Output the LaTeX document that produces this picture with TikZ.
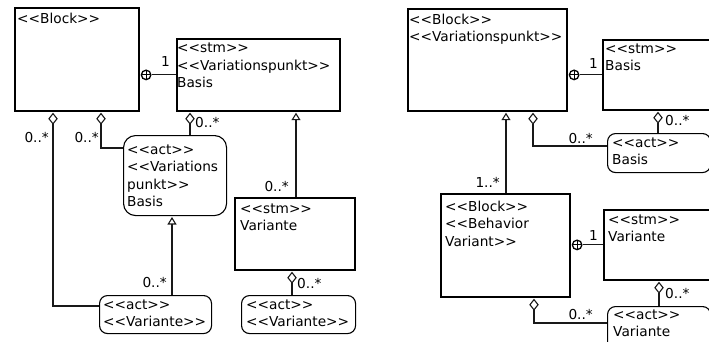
\documentclass[tikz,border=0pt]{standalone}
\usepackage{fontspec}
\newfontfamily\dvs{DejaVu Sans}
\usetikzlibrary{arrows.meta}
\newcommand\bxt[1]{\begin{tabular}[t]{@{}l@{}}#1\end{tabular}}
\begin{document}
\begin{tikzpicture}[x=1pt,y=-1pt,
  font=\dvs\fontsize{13.7}{17.5}\selectfont,
  blockbox/.style={draw=black, line width=1.8pt, rectangle, anchor=north west, inner sep=0pt},
  actbox/.style={draw=black, line width=1.1pt, rounded corners=8pt, rectangle, anchor=north west, inner sep=0pt},
  txt/.style={anchor=base west, inner sep=0pt},
  lblE/.style={anchor=base east, inner sep=0pt},
  lblW/.style={anchor=base west, inner sep=0pt},
  conn/.style={line width=1.1pt, draw=black!90},
  agg/.style={conn, shorten <=0.9pt, {Diamond[open, length=12pt, width=9.5pt]}-},
  gen/.style={conn, shorten <=0.9pt, {Triangle[open, length=7.5pt, width=9pt]}-},
  cplus/.style={circle, draw=black, line width=1.3pt, minimum size=9.5pt, inner sep=0pt,
    path picture={\draw[line width=1.1pt] (path picture bounding box.north) -- (path picture bounding box.south)
      (path picture bounding box.west) -- (path picture bounding box.east);}}
]
\useasboundingbox (0,0) rectangle (709,341);
\clip (0,0) rectangle (709,341);

% ---------- left diagram ----------
\node[blockbox, minimum width=124pt, minimum height=103pt] (blk) at (14,7) {};
\node[blockbox, minimum width=163pt, minimum height=72pt] (svp) at (176,38) {};
\node[actbox, rounded corners=12pt, minimum width=103pt, minimum height=80pt] (avp) at (123,135) {};
\node[blockbox, minimum width=120pt, minimum height=72pt] (sv) at (234,197) {};
\node[actbox, minimum width=112pt, minimum height=38pt] (av1) at (99,295) {};
\node[actbox, minimum width=114pt, minimum height=38pt] (av2) at (241,295) {};

\node[txt] (tblk) at (17,23) {\bxt{<<Block>>}};
\node[txt] (tsvp) at (177,52.5) {\bxt{<<stm>>\\<<Variationspunkt>>\\Basis}};
\node[txt] (tavp) at (127,154) {\bxt{<<act>>\\<<Variations\\punkt>>\\Basis}};
\node[txt] (tsv) at (240,213) {\bxt{<<stm>>\\Variante}};
\node[txt] (tav1) at (103,309) {\bxt{<<act>>\\<<Variante>>}};
\node[txt] (tav2) at (246,309) {\bxt{<<act>>\\<<Variante>>}};

\node[cplus, anchor=west, xshift=0.9pt] (cp1) at (blk.east |- svp.west) {};
\draw[conn] (cp1) -- (svp.west);
\draw[agg] (blk.south -| 53,0) |- (av1.west |- 0,306);
\draw[agg] (blk.south -| 101,0) |- (avp.west |- 0,148);
\draw[agg] (svp.south -| 190,0) -- (avp.north -| 190,0);
\draw[gen] (avp.south -| 172,0) -- (av1.north -| 172,0);
\draw[gen] (svp.south -| 296,0) -- (sv.north -| 296,0);
\draw[agg] (sv.south -| 292,0) -- (av2.north -| 292,0);

\node[lblE] (l1) at (170,66) {1};
\node[lblE] (l2) at (49,142) {0..*};
\node[lblE] (l3) at (99,142) {0..*};
\node[lblW] (l4) at (195,127) {0..*};
\node[lblE] (l5) at (167,287) {0..*};
\node[lblE] (l6) at (289,191) {0..*};
\node[lblW] (l7) at (297,288) {0..*};

% ---------- right diagram ----------
\node[blockbox, minimum width=159pt, minimum height=102pt] (bvp) at (407,8) {};
\node[blockbox, minimum width=120pt, minimum height=70pt] (sb) at (602,39) {};
\node[actbox, minimum width=103pt, minimum height=39pt] (ab) at (607,133) {};
\node[blockbox, minimum width=129pt, minimum height=103pt] (bbv) at (440,193) {};
\node[blockbox, minimum width=120pt, minimum height=70pt] (sv2) at (603,209) {};
\node[actbox, minimum width=103pt, minimum height=44pt] (av3) at (607,306) {};

\node[txt] (tbvp) at (409,24) {\bxt{<<Block>>\\<<Variationspunkt>>}};
\node[txt] (tsb) at (605,53) {\bxt{<<stm>>\\Basis}};
\node[txt] (tab) at (612,147) {\bxt{<<act>>\\Basis}};
\node[txt] (tbbv) at (445,211) {\bxt{<<Block>>\\<<Behavior\\Variant>>}};
\node[txt] (tsv2) at (608,224) {\bxt{<<stm>>\\Variante}};
\node[txt] (tav3) at (613,319) {\bxt{<<act>>\\Variante}};

\node[cplus, anchor=west, xshift=0.9pt] (cp2) at (bvp.east |- sb.west) {};
\draw[conn] (cp2) -- (sb.west);
\draw[gen] (bvp.south -| 506,0) -- (bbv.north -| 506,0);
\draw[agg] (bvp.south -| 533,0) |- (ab.west |- 0,146);
\draw[agg] (sb.south -| 658,0) -- (ab.north -| 658,0);
\node[cplus, anchor=west, xshift=0.9pt] (cp3) at (bbv.east |- sv2.west) {};
\draw[conn] (cp3) -- (sv2.west);
\draw[agg] (sv2.south -| 659,0) -- (av3.north -| 659,0);
\draw[agg] (bbv.south -| 534,0) |- (av3.west |- 0,323);

\node[lblE] (r1) at (598,68) {1};
\node[lblE] (r2) at (500,187) {1..*};
\node[lblE] (r3) at (593,143) {0..*};
\node[lblW] (r4) at (665,125) {0..*};
\node[lblE] (r5) at (598,240) {1};
\node[lblW] (r6) at (665,298) {0..*};
\node[lblE] (r7) at (593,319) {0..*};
\end{tikzpicture}
\end{document}
